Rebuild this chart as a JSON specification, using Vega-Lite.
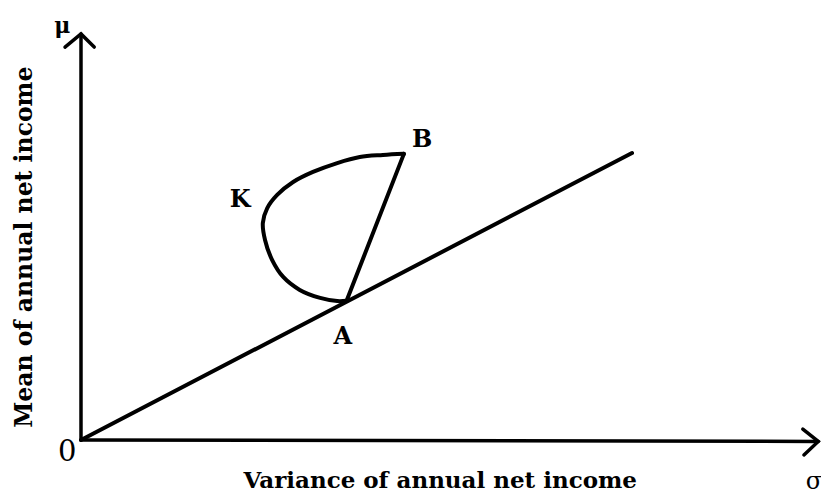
{
  "$schema": "https://vega.github.io/schema/vega-lite/v6.json",
  "width": 821,
  "height": 500,
  "padding": 0,
  "autosize": {"type": "none"},
  "background": "white",
  "config": {"view": {"stroke": null}},
  "datasets": {
    "axes": [
      {"part": "yaxis", "seq": 1, "x": 0, "y": 0},
      {"part": "yaxis", "seq": 2, "x": 0, "y": 14.15},
      {"part": "yhead", "seq": 1, "x": -0.29, "y": 13.69},
      {"part": "yhead", "seq": 2, "x": 0, "y": 14.15},
      {"part": "yhead", "seq": 3, "x": 0.24, "y": 13.69},
      {"part": "xaxis", "seq": 1, "x": 0, "y": 0},
      {"part": "xaxis", "seq": 2, "x": 13.38, "y": -0.05},
      {"part": "xhead", "seq": 1, "x": 13.1, "y": 0.38},
      {"part": "xhead", "seq": 2, "x": 13.38, "y": -0.05},
      {"part": "xhead", "seq": 3, "x": 13.12, "y": -0.52}
    ],
    "curves": [
      {"part": "ray", "seq": 1, "x": 0, "y": 0},
      {"part": "ray", "seq": 2, "x": 10, "y": 10},
      {"part": "loop", "seq": 1, "x": 4.82, "y": 4.85},
      {"part": "loop", "seq": 2, "x": 4.65, "y": 4.84},
      {"part": "loop", "seq": 3, "x": 4.34, "y": 4.95},
      {"part": "loop", "seq": 4, "x": 3.97, "y": 5.23},
      {"part": "loop", "seq": 5, "x": 3.67, "y": 5.68},
      {"part": "loop", "seq": 6, "x": 3.47, "y": 6.27},
      {"part": "loop", "seq": 7, "x": 3.34, "y": 6.97},
      {"part": "loop", "seq": 8, "x": 3.3, "y": 7.56},
      {"part": "loop", "seq": 9, "x": 3.38, "y": 8.08},
      {"part": "loop", "seq": 10, "x": 3.56, "y": 8.54},
      {"part": "loop", "seq": 11, "x": 3.85, "y": 8.99},
      {"part": "loop", "seq": 12, "x": 4.21, "y": 9.34},
      {"part": "loop", "seq": 13, "x": 4.65, "y": 9.65},
      {"part": "loop", "seq": 14, "x": 5.06, "y": 9.86},
      {"part": "loop", "seq": 15, "x": 5.48, "y": 9.93},
      {"part": "loop", "seq": 16, "x": 5.86, "y": 9.97},
      {"part": "chord", "seq": 1, "x": 5.86, "y": 9.97},
      {"part": "chord", "seq": 2, "x": 4.82, "y": 4.85}
    ],
    "boldLabels": [
      {"text": "B", "x": 6.19, "y": 10.45, "size": 24, "angle": 0},
      {"text": "K", "x": 2.89, "y": 8.36, "size": 24, "angle": 0},
      {"text": "A", "x": 4.75, "y": 3.59, "size": 24, "angle": 0},
      {"text": "μ", "x": -0.34, "y": 14.42, "size": 22, "angle": 0},
      {"text": "Variance of annual net income", "x": 6.52, "y": -1.43, "size": 23, "angle": 0},
      {"text": "Mean of annual net income", "x": -1.02, "y": 6.72, "size": 23.5, "angle": 270}
    ],
    "plainLabels": [
      {"text": "0", "x": -0.25, "y": -0.42, "size": 29},
      {"text": "σ", "x": 13.3, "y": -1.45, "size": 24}
    ]
  },
  "layer": [
    {
      "data": {"name": "axes"},
      "mark": {"type": "line", "color": "black", "strokeWidth": 3.5, "strokeCap": "round", "strokeJoin": "miter", "clip": false},
      "encoding": {
        "x": {"field": "x", "type": "quantitative", "scale": {"domain": [-1.47, 13.43], "nice": false, "zero": false}, "axis": null},
        "y": {"field": "y", "type": "quantitative", "scale": {"domain": [-2.091, 15.331], "nice": false, "zero": false}, "axis": null},
        "detail": {"field": "part"},
        "order": {"field": "seq"}
      }
    },
    {
      "data": {"name": "curves"},
      "mark": {"type": "line", "color": "black", "strokeWidth": 4, "strokeCap": "round", "interpolate": "catmull-rom", "clip": false},
      "encoding": {
        "x": {"field": "x", "type": "quantitative"},
        "y": {"field": "y", "type": "quantitative"},
        "detail": {"field": "part"},
        "order": {"field": "seq"}
      }
    },
    {
      "data": {"name": "boldLabels"},
      "mark": {"type": "text", "font": "DejaVu Serif", "fontWeight": "bold", "color": "black", "align": "center", "baseline": "middle"},
      "encoding": {
        "x": {"field": "x", "type": "quantitative"},
        "y": {"field": "y", "type": "quantitative"},
        "text": {"field": "text"},
        "size": {"field": "size", "type": "quantitative", "scale": null},
        "angle": {"field": "angle", "type": "quantitative", "scale": null}
      }
    },
    {
      "data": {"name": "plainLabels"},
      "mark": {"type": "text", "font": "DejaVu Serif", "color": "black", "align": "center", "baseline": "middle"},
      "encoding": {
        "x": {"field": "x", "type": "quantitative"},
        "y": {"field": "y", "type": "quantitative"},
        "text": {"field": "text"},
        "size": {"field": "size", "type": "quantitative", "scale": null}
      }
    }
  ]
}
